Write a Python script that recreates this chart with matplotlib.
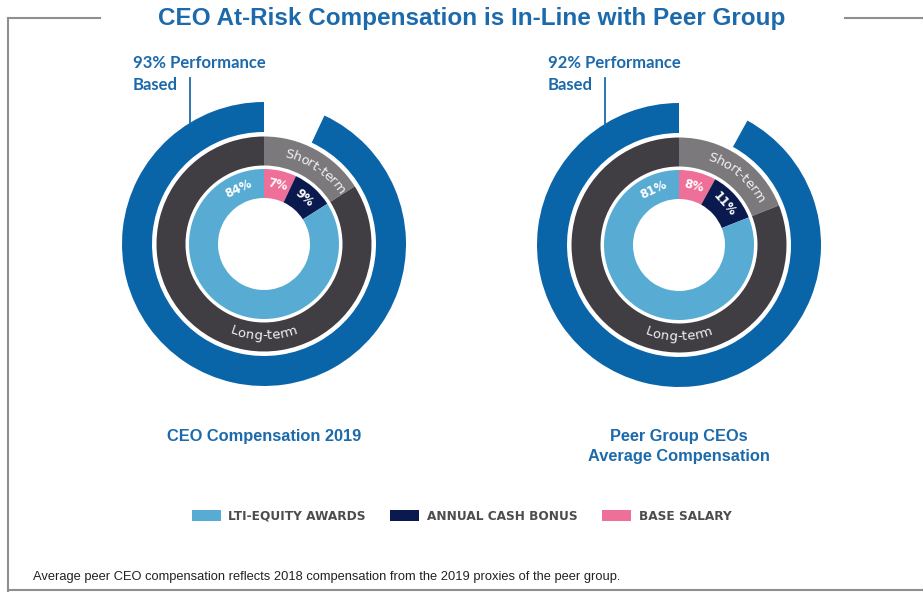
import numpy as np
import matplotlib.pyplot as plt
from matplotlib.patches import Patch
from matplotlib.textpath import TextToPath
from matplotlib.font_manager import FontProperties

W, H = 923, 592

# data
titles = ['CEO Compensation 2019', 'Peer Group CEOs\nAverage Compensation']
lti = [84, 81]
bonus = [9, 11]
salary = [7, 8]
perf = [93, 92]
legend_labels = ['LTI-EQUITY AWARDS', 'ANNUAL CASH BONUS', 'BASE SALARY']

c_light = '#58acd3'
c_navy = '#0b1a4e'
c_pink = '#ee6f98'
c_blue = '#0a64a8'
c_dark = '#413e43'
c_gray = '#7b797b'
c_title = '#1c6aab'

fig = plt.figure(figsize=(W / 100, H / 100), dpi=100)
ax = fig.add_axes([0, 0, 1, 1])

t2p = TextToPath()


def Y(y):
    return H - y


def curved(text, cx, cy, r, mid, fs, bottom=False, color='white'):
    # put characters one by one along an arc, mid = clockwise degrees from 12 o'clock
    fp = FontProperties(family='DejaVu Sans', size=fs)

    def width(s):
        if not s:
            return 0.0
        w, h, d = t2p.get_text_width_height_descent(s, fp, ismath=False)
        return w * 100 / 72

    total = width(text)
    for i, ch in enumerate(text):
        s = (width(text[:i]) + width(text[:i + 1])) / 2 - total / 2
        if bottom:
            th = np.radians(mid) - s / r
            rot = 180 - np.degrees(th)
        else:
            th = np.radians(mid) + s / r
            rot = -np.degrees(th)
        ax.text(cx + r * np.sin(th), cy + r * np.cos(th), ch, fontproperties=fp,
                color=color, rotation=rot, rotation_mode='anchor',
                ha='center', va='center')


centers = [(264, Y(244)), (679, Y(245))]

for k, (cx, cy) in enumerate(centers):
    # inner ring
    ax.pie([salary[k], bonus[k], lti[k]], radius=75, center=(cx, cy), startangle=90,
           counterclock=False, colors=[c_pink, c_navy, c_light],
           wedgeprops=dict(width=29, linewidth=0))
    # short / long term ring
    ax.pie([salary[k] + bonus[k], lti[k]], radius=107.5, center=(cx, cy), startangle=90,
           counterclock=False, colors=[c_gray, c_dark],
           wedgeprops=dict(width=29, linewidth=0))
    # performance based ring
    ax.pie([100 - perf[k], perf[k]], radius=142, center=(cx, cy), startangle=90,
           counterclock=False, colors=['none', c_blue],
           wedgeprops=dict(width=30, linewidth=0))

    # percent labels
    a_sal = salary[k] / 100 * 360
    a_bon = bonus[k] / 100 * 360
    labs = [(str(salary[k]) + '%', a_sal / 2),
            (str(bonus[k]) + '%', a_sal + a_bon / 2),
            (str(lti[k]) + '%', 335)]
    for txt, ang in labs:
        th = np.radians(ang)
        ax.text(cx + 61 * np.sin(th), cy + 61 * np.cos(th), txt, color='white',
                fontsize=8.5, fontweight='bold', rotation=-ang if ang < 180 else 360 - ang,
                rotation_mode='anchor', ha='center', va='center')

    curved('Short-term', cx, cy, 93, (salary[k] + bonus[k]) / 100 * 360 / 2 + 6, 9.5,
           color='#f2f2f2')
    curved('Long-term', cx, cy, 92, 180, 9.5, bottom=True, color='#f2f2f2')

    # performance based callout
    lx = cx - 74
    ax.plot([lx, lx], [Y(78), cy + np.sqrt(142 ** 2 - 74 ** 2) - 1], color=c_title, lw=1.3)
    ax.text(cx - 131, Y(55), '%d%% Performance\nBased' % perf[k], color=c_title,
            fontsize=12, family='Lato', fontweight='bold', ha='left', va='top',
            linespacing=1.45)

    ax.text(cx, Y(429), titles[k], color=c_title, fontsize=11.8, fontweight='bold',
            family='Liberation Sans', ha='center', va='top', linespacing=1.45)

# title and frame
ax.text(472, Y(18), 'CEO At-Risk Compensation is In-Line with Peer Group', color=c_title,
        fontsize=17.5, fontweight='bold', family='Liberation Sans', ha='center', va='center')
fc = '#8f8f8f'
ax.plot([8, 100], [Y(18), Y(18)], color=fc, lw=1.5)
ax.plot([845, W], [Y(18), Y(18)], color=fc, lw=1.5)
ax.plot([8, 8], [Y(18), Y(592)], color=fc, lw=1.5)
ax.plot([8, W], [Y(590), Y(590)], color=fc, lw=1.5)

# legend
handles = [Patch(facecolor=c, edgecolor='none') for c in [c_light, c_navy, c_pink]]
leg = ax.legend(handles, legend_labels, loc='center', bbox_to_anchor=(461.5 / W, 1 - 516 / H),
                bbox_transform=fig.transFigure, ncol=3, frameon=False,
                prop=FontProperties(family='DejaVu Sans', size=8.7, weight='bold'),
                handlelength=2.4, handleheight=1.1, handletextpad=0.65, columnspacing=2.0)
for t in leg.get_texts():
    t.set_color('#4d4d4d')

ax.text(33, Y(577), 'Average peer CEO compensation reflects 2018 compensation from the 2019 '
        'proxies of the peer group.', color='#222222', fontsize=9.3, family='Liberation Sans',
        ha='left', va='center')

ax.set_xlim(0, W)
ax.set_ylim(0, H)
ax.set_aspect('auto')
ax.axis('off')

fig.savefig('out.png', dpi=100)
